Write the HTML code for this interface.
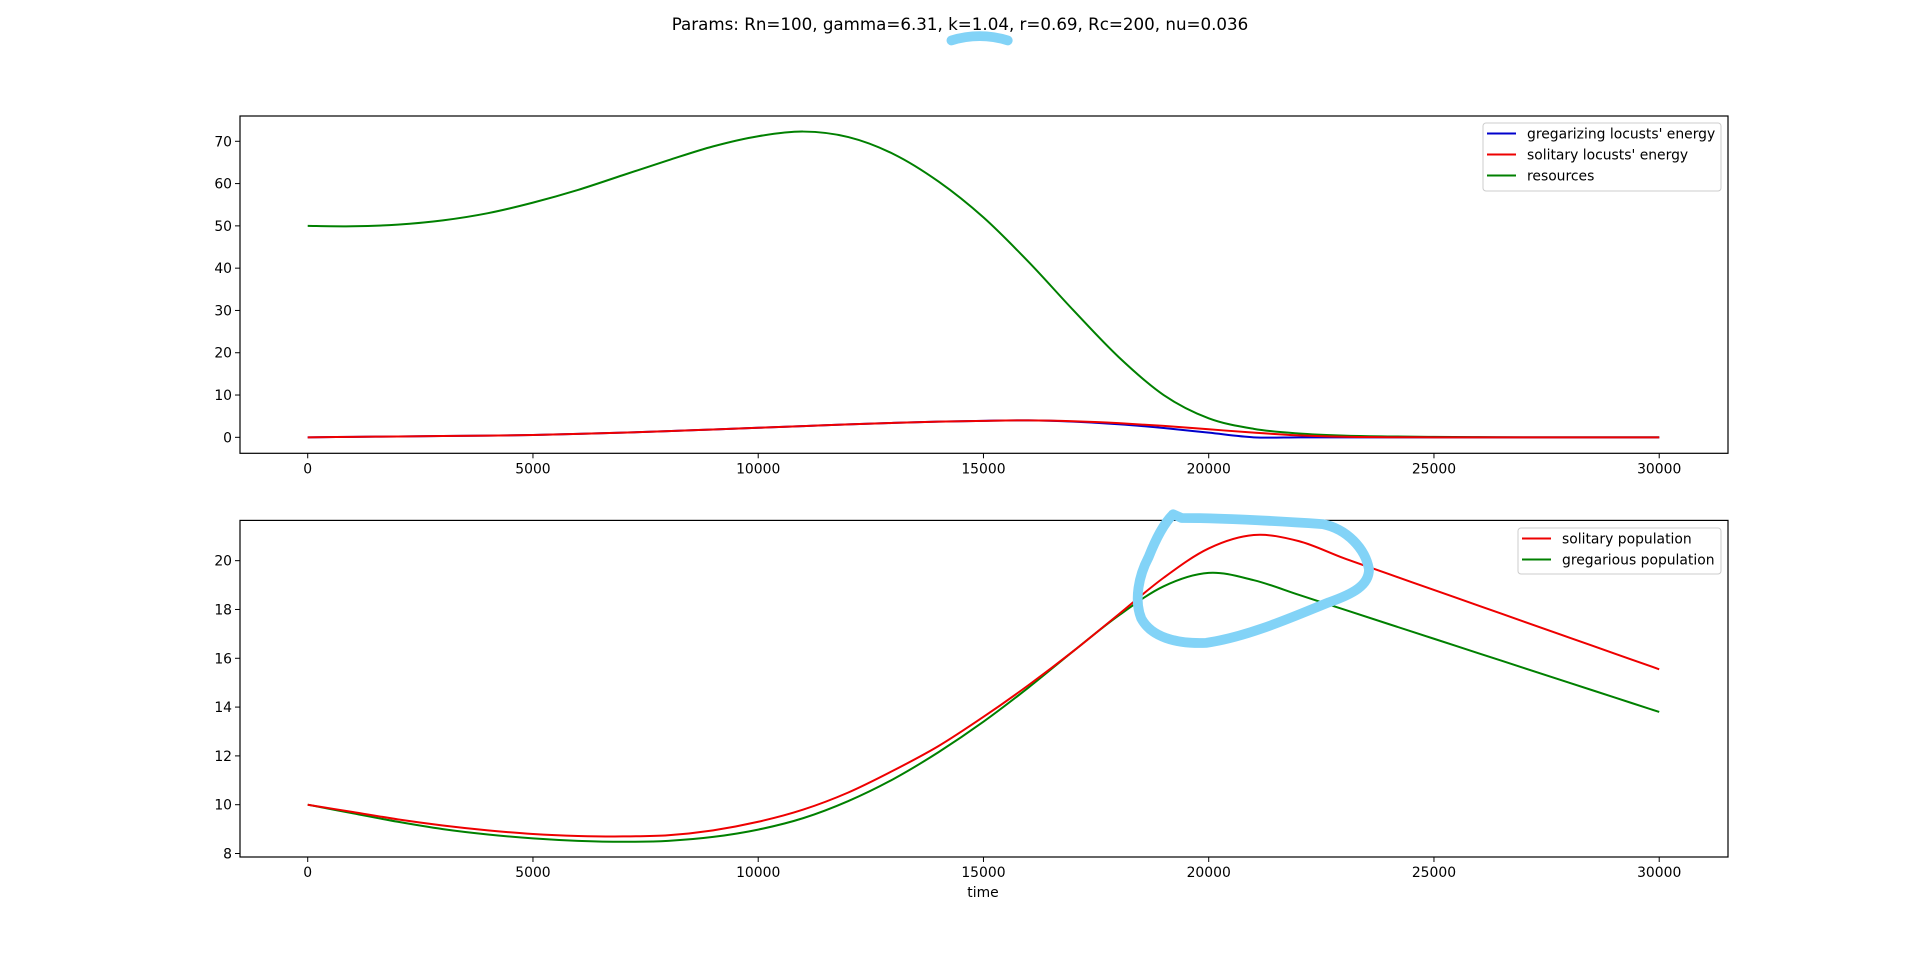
<!DOCTYPE html>
<html><head><meta charset="utf-8"><style>
html,body{margin:0;padding:0;background:#fff;}
svg{display:block;font-family:"DejaVu Sans","Liberation Sans",sans-serif;}
</style></head><body>
<svg id="chart" width="1920" height="962" viewBox="0 0 1920 962" xmlns="http://www.w3.org/2000/svg">
<rect width="1920" height="962" fill="#fff"/>
<text x="960" y="30" font-size="16.7" text-anchor="middle">Params: Rn=100, gamma=6.31, k=1.04, r=0.69, Rc=200, nu=0.036</text>
<g id="top"></g>
<g id="bot"></g>
<text x="983" y="897" font-size="13.9" text-anchor="middle">time</text>
<g transform="scale(1.2245)" fill="none" stroke="#82d3f7" stroke-width="8" stroke-linecap="round" stroke-linejoin="round">
<path d="M777,33 Q800,26 823,33"/>
<path d="M958,420 L965,423 C1000,423 1050,426 1080,428 C1100,432 1115,448 1118,465 C1118,478 1105,485 1085,492 C1060,502 1020,520 985,525 C960,526 940,520 932,505 C926,490 930,470 938,455 C944,440 950,428 958,420"/>
</g>
</svg>
<script>
const tX=[0,1000,2000,3000,4000,5000,6000,7000,8000,9000,10000,11000,12000,13000,14000,15000,16000,17000,18000,19000,20000,21000,22000,23000,24000,25000,26000,27000,28000,29000,30000];
const resources=[50,49.9,50.3,51.3,53,55.5,58.5,62,65.5,68.8,71.2,72.3,71,67,60.5,52,41.5,30,19,10,4.5,2,0.9,0.4,0.2,0.1,0.05,0,0,0,0];
const solitaryEnergy=[0,0.1,0.2,0.3,0.4,0.55,0.8,1.1,1.45,1.85,2.25,2.65,3.05,3.4,3.7,3.9,4,3.8,3.35,2.7,1.9,1.1,0.45,0.12,0.03,0,0,0,0,0,0];
const gregEnergy=[0,0.1,0.2,0.3,0.4,0.55,0.8,1.1,1.45,1.85,2.25,2.65,3.05,3.4,3.7,3.9,4,3.7,3.1,2.2,1.1,0,0,0,0,0,0,0,0,0,0];
const solitaryPop=[10,9.7,9.4,9.15,8.95,8.8,8.72,8.7,8.75,8.95,9.3,9.8,10.5,11.4,12.4,13.6,14.9,16.3,17.8,19.3,20.5,21.05,20.8,20.1,19.45,18.8,18.15,17.5,16.85,16.2,15.55];
const gregPop=[10,9.65,9.3,9.0,8.78,8.62,8.52,8.48,8.52,8.68,8.98,9.45,10.15,11.05,12.15,13.4,14.8,16.3,17.75,18.95,19.5,19.2,18.6,18.0,17.4,16.8,16.2,15.6,15.0,14.4,13.8];
const xTicks=[0,5000,10000,15000,20000,25000,30000];
const yTicksTop=[0,10,20,30,40,50,60,70];
const yTicksBot=[8,10,12,14,16,18,20];
const NS="http://www.w3.org/2000/svg";
function el(p,t,a){const e=document.createElementNS(NS,t);for(const k in a)e.setAttribute(k,a[k]);p.appendChild(e);return e;}
function smooth(pts){let d="M"+pts[0][0]+","+pts[0][1];for(let i=0;i<pts.length-1;i++){const p0=pts[Math.max(0,i-1)],p1=pts[i],p2=pts[i+1],p3=pts[Math.min(pts.length-1,i+2)];
const c1=[p1[0]+(p2[0]-p0[0])/6,p1[1]+(p2[1]-p0[1])/6],c2=[p2[0]-(p3[0]-p1[0])/6,p2[1]-(p3[1]-p1[1])/6];d+=" C"+c1+" "+c2+" "+p2;}return d;}
function panel(g,top,bottom,ymin,ymax,yTicks,series,legend,lbox){
 const L=240,R=1728,xmin=-1503,xmax=31527;
 const X=v=>L+(v-xmin)/(xmax-xmin)*(R-L), Y=v=>bottom-(v-ymin)/(ymax-ymin)*(bottom-top);
 xTicks.forEach(t=>{const l=el(g,'line',{x1:X(t),x2:X(t),y1:bottom,y2:bottom+5,stroke:'#000'});
 
 const tx=el(g,'text',{x:X(t),y:bottom+20,'font-size':13.9,'text-anchor':'middle'});tx.textContent=t;
 });
 yTicks.forEach(t=>{const l=el(g,'line',{x1:L-5,x2:L,y1:Y(t),y2:Y(t),stroke:'#000'});
 
 const tx=el(g,'text',{x:L-8,y:Y(t)+5,'font-size':13.9,'text-anchor':'end'});tx.textContent=t;
 });
 series.forEach(s=>{const p=el(g,'path',{d:smooth(tX.map((t,i)=>[X(t),Y(s.v[i])])),fill:'none',stroke:s.c,'stroke-width':2});
 });
 const fr=el(g,'rect',{x:L,y:top,width:R-L,height:bottom-top,fill:'none',stroke:'#000','stroke-width':1.2});
 
 const lb=el(g,'rect',{x:lbox[0],y:lbox[1],width:lbox[2],height:lbox[3],fill:'#fff','fill-opacity':0.8,stroke:'#ccc',rx:3});
 
 legend.forEach((e,i)=>{const y=lbox[1]+10.5+i*21;
 const l=el(g,'line',{x1:lbox[0]+4,x2:lbox[0]+33,y1:y,y2:y,stroke:e.c,'stroke-width':2});
 
 const t=el(g,'text',{x:lbox[0]+44,y:y+5,'font-size':13.9});t.textContent=e.n;
 });
}
panel(document.getElementById('top'),116,453.3,-3.78,75.98,yTicksTop,
 [{v:resources,c:'#008000',n:'resources-line'},{v:gregEnergy,c:'#0000cc',n:'gregarizing-energy-line'},{v:solitaryEnergy,c:'#ee0000',n:'solitary-energy-line'}],
 [{n:"gregarizing locusts' energy",c:'#0000cc'},{n:"solitary locusts' energy",c:'#ee0000'},{n:'resources',c:'#008000'}],[1483,123,238,68]);
panel(document.getElementById('bot'),520.4,857,7.857,21.65,yTicksBot,
 [{v:gregPop,c:'#008000',n:'gregarious-population-line'},{v:solitaryPop,c:'#ee0000',n:'solitary-population-line'}],
 [{n:'solitary population',c:'#ee0000'},{n:'gregarious population',c:'#008000'}],[1518,528,203,46]);
</script>
</body></html>
